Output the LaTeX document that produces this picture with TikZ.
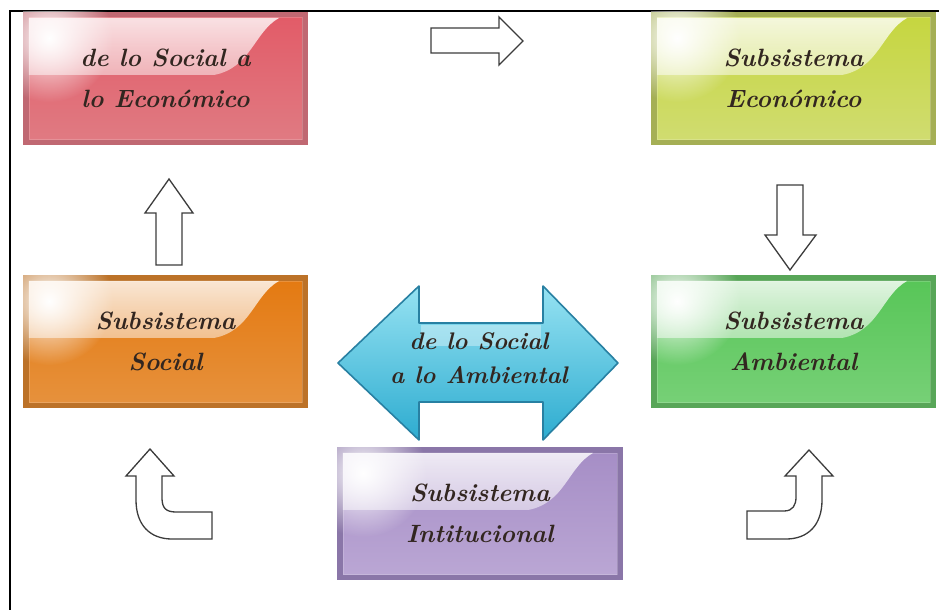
\documentclass[tikz,border=0pt]{standalone}
\usetikzlibrary{calc,fadings}

% glossy panel colours: frame, middle, lower
\definecolor{redEdge}{RGB}{192,104,114}
\definecolor{redMid}{RGB}{226,92,104}
\definecolor{redLow}{RGB}{224,122,130}
\definecolor{limeEdge}{RGB}{165,175,85}
\definecolor{limeMid}{RGB}{198,214,64}
\definecolor{limeLow}{RGB}{208,220,112}
\definecolor{orangeEdge}{RGB}{188,114,40}
\definecolor{orangeMid}{RGB}{228,122,18}
\definecolor{orangeLow}{RGB}{230,145,60}
\definecolor{greenEdge}{RGB}{88,166,88}
\definecolor{greenMid}{RGB}{88,198,88}
\definecolor{greenLow}{RGB}{118,208,118}
\definecolor{purpleEdge}{RGB}{138,118,168}
\definecolor{purpleMid}{RGB}{166,142,198}
\definecolor{purpleLow}{RGB}{186,166,212}
\definecolor{labelInk}{RGB}{50,38,32}
\definecolor{cyanTop}{RGB}{150,226,242}
\definecolor{cyanMid}{RGB}{85,203,230}
\definecolor{cyanLow}{RGB}{45,172,208}
\definecolor{cyanLine}{RGB}{40,128,162}
\definecolor{arrowLine}{RGB}{60,60,60}

% soft white highlights
\tikzfading[name=softglow, inner color=transparent!0, outer color=transparent!100]
\tikzfading[name=glossfade, top color=transparent!0, middle color=transparent!20, bottom color=transparent!40]

\tikzset{
  panel/.style={rectangle, inner sep=0pt, minimum width=285pt, minimum height=133pt,
    fill=#1Edge, text=labelInk, align=center,
    font=\fontsize{25}{41}\selectfont\bfseries\itshape,
    path picture={
      \coordinate (pnw) at ($(path picture bounding box.north west)+(6pt,-6pt)$);
      \coordinate (pse) at ($(path picture bounding box.south east)+(-6pt,6pt)$);
      \shade[top color=#1Mid, bottom color=#1Low] (pnw) rectangle (pse);
      \fill[white, opacity=.82, path fading=glossfade] (pnw) -- ($(pnw)+(250pt,0)$)
        .. controls ($(pnw)+(225pt,-14pt)$) and ($(pnw)+(222pt,-50pt)$) .. ($(pnw)+(185pt,-57pt)$)
        -- ($(pnw)+(0,-57pt)$) -- cycle;
      \fill[white, path fading=softglow]
        ($(pnw)+(20pt,-20pt)$) circle (64pt);
      \draw[white, opacity=.18, line width=1pt] (pnw) rectangle (pse);
    }},
  block/.style={draw=arrowLine, fill=white, line width=1.3pt, line join=miter},
  arrowlabel/.style={text=labelInk, align=center, font=\fontsize{24}{34}\selectfont\bfseries\itshape}
}

\begin{document}
\begin{tikzpicture}[x=1pt,y=-1pt]
\useasboundingbox (0,0) rectangle (939,610);
\fill[white] (0,0) rectangle (939,610);

% frame lines
\draw[line width=2pt] (939,11) -- (10,11) -- (10,610);

% the five subsystems
\node[panel=red]    (socialEcon) at (165.5,78.5)  {de lo Social a\\lo Económico};
\node[panel=lime]   (economico)  at (793.5,78.5)  {Subsistema\\Económico};
\node[panel=orange] (social)     at (165.5,341.5) {Subsistema\\Social};
\node[panel=green]  (ambiental)  at (793.5,341.5) {Subsistema\\Ambiental};
\node[panel=purple, minimum width=286pt] (institucional) at (480,513.5) {Subsistema\\Intitucional};

% two-headed arrow between the social and environmental sides
\shade[top color=cyanTop, middle color=cyanMid, bottom color=cyanLow]
  (338,363) -- (419,286) -- (419,323) -- (543,323) -- (543,286) -- (618,363)
  -- (543,440) -- (543,402) -- (419,402) -- (419,440) -- cycle;
\fill[white, opacity=.35] (421,325) rectangle (541,346);
\draw[cyanLine, line width=1.6pt, line join=round]
  (338,363) -- (419,286) -- (419,323) -- (543,323) -- (543,286) -- (618,363)
  -- (543,440) -- (543,402) -- (419,402) -- (419,440) -- cycle;
\node[arrowlabel] (socialAmb) at (479,358) {de lo Social\\a lo Ambiental};

% block arrows of the cycle
\draw[block] (431,28) -- (499,28) -- (499,17) -- (523,41) -- (499,65) -- (499,53) -- (431,53) -- cycle;
\draw[block] (777,185) -- (803,185) -- (803,235) -- (816,235) -- (790,270) -- (765,235) -- (777,235) -- cycle;
\draw[block] (156,265) -- (182,265) -- (182,213) -- (193,213) -- (169,179) -- (145,213) -- (156,213) -- cycle;

% curved arrows rising from the bottom
\draw[block] (150,449) -- (174,476) -- (162,476) -- (162,498)
  .. controls (162,508) and (166,512) .. (176,512) -- (212,512) -- (212,539) -- (172,539)
  .. controls (150,539) and (136,525) .. (136,500) -- (136,476) -- (126,476) -- cycle;
\draw[block] (809,450) -- (833,476) -- (822,476) -- (822,500)
  .. controls (822,525) and (808,539) .. (786,539) -- (747,539) -- (747,511) -- (784,511)
  .. controls (793,511) and (796,505) .. (796,497) -- (796,476) -- (785,476) -- cycle;
\end{tikzpicture}
\end{document}
